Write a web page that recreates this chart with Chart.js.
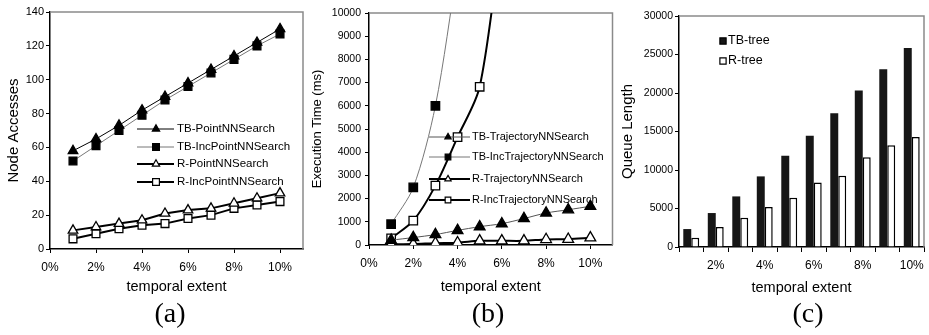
<!DOCTYPE html>
<html>
<head>
<meta charset="utf-8">
<script src="https://cdn.jsdelivr.net/npm/chart.js@4.4.0/dist/chart.umd.min.js"></script>
<style>
  body { margin: 0; background: #fff; }
  .panel { position: absolute; top: 0; height: 335px; }
  .caption { position: absolute; top: 297px; line-height: 30px; font: 28px 'Liberation Serif', serif; transform: translateX(-50%); }
</style>
</head>
<body>
<div class="panel" style="left:0;width:310px"><canvas id="chart-a"></canvas></div>
<div class="panel" style="left:310px;width:310px"><canvas id="chart-b"></canvas></div>
<div class="panel" style="left:620px;width:309px"><canvas id="chart-c"></canvas></div>
<div class="caption" style="left:170px">(a)</div>
<div class="caption" style="left:488px">(b)</div>
<div class="caption" style="left:808px">(c)</div>
<script>
// temporal extent in %
const extent = [1, 2, 3, 4, 5, 6, 7, 8, 9, 10]
const extentLabels = ['1%', '2%', '3%', '4%', '5%', '6%', '7%', '8%', '9%', '10%']

// (a) node accesses
const tbPointNN = [58, 65, 73, 82, 90, 98, 106, 114, 122, 130]
const tbIncPointNN = [52, 61, 70, 79, 88, 96, 104, 112, 120, 127]
const rPointNN = [11, 13, 15, 17, 21, 23, 24, 27, 30, 33]
const rIncPointNN = [6, 9, 12, 14, 15, 18, 20, 24, 26, 28]

// (b) execution time (ms), the steep series leave the plot
const tbTrajNN = [210, 320, 450, 630, 790, 920, 1140, 1380, 1520, 1670]
const tbIncTrajNN = [900, 2480, 6000, 12000]
const rTrajNN = [30, 40, 80, 100, 180, 180, 180, 240, 250, 310]
const rIncTrajNN = [290, 1050, 2560, 4650, 6820, 13500]

// (c) queue length
const tbTreeQueue = [2330, 4410, 6570, 9170, 11850, 14440, 17380, 20320, 23090, 25850]
const rTreeQueue = [1210, 2590, 3800, 5190, 6400, 8390, 9250, 11670, 13230, 14270]

Chart.defaults.font.family = "'Liberation Sans', Arial, sans-serif"
Chart.defaults.color = '#000'
Chart.defaults.animation = false

const pts = (ys) => ys.map((y, i) => ({ x: extent[i], y: y }))

const marker = (ctx, style, x, y, r) => {
  ctx.beginPath()
  if (style === 'triangle') {
    ctx.moveTo(x, y - r)
    ctx.lineTo(x + r * 0.866, y + r * 0.5)
    ctx.lineTo(x - r * 0.866, y + r * 0.5)
    ctx.closePath()
  } else {
    const s = r * Math.SQRT1_2
    ctx.rect(x - s, y - s, 2 * s, 2 * s)
  }
  ctx.fill()
  ctx.stroke()
}

// grey box on top and right of the plot
const frame = {
  id: 'frame',
  beforeDatasetsDraw (chart) {
    const { ctx, chartArea: a } = chart
    ctx.save()
    ctx.strokeStyle = '#8a8a8a'
    ctx.lineWidth = 1.5
    ctx.beginPath()
    ctx.moveTo(a.left, a.top)
    ctx.lineTo(a.right, a.top)
    ctx.lineTo(a.right, a.bottom)
    ctx.stroke()
    ctx.restore()
  }
}

// excel style key: line with marker, then the name
const keyBox = {
  id: 'keyBox',
  afterDatasetsDraw (chart, args, opts) {
    const { ctx } = chart
    ctx.save()
    ctx.font = opts.font
    ctx.textBaseline = 'middle'
    chart.data.datasets.forEach((ds, i) => {
      const y = opts.rows[i]
      if (opts.line) {
        ctx.strokeStyle = ds.borderColor
        ctx.lineWidth = ds.borderWidth
        ctx.beginPath()
        ctx.moveTo(opts.line[0], y)
        ctx.lineTo(opts.line[1], y)
        ctx.stroke()
      }
      ctx.fillStyle = ds.pointBackgroundColor || ds.backgroundColor
      ctx.strokeStyle = '#000'
      ctx.lineWidth = 1.2
      marker(ctx, ds.pointStyle || 'rect', opts.markerX, y, opts.radius[i])
      ctx.fillStyle = '#000'
      ctx.fillText(ds.label, opts.textX, y)
    })
    ctx.restore()
  }
}

const fixWidth = (w) => (s) => { s.width = w; s.paddingTop = 0; s.paddingBottom = 0 }
const fixHeight = (h) => (s) => { s.height = h; s.paddingLeft = 0; s.paddingRight = 0 }

const axisLine = { color: '#000', width: 1.5 }
const tickMarks = (len) => ({ drawOnChartArea: false, tickLength: len, color: '#000', lineWidth: 1 })

const xPercent = (h, tickLen) => ({
  type: 'linear',
  min: 0,
  max: 11,
  afterFit: fixHeight(h),
  border: axisLine,
  grid: tickMarks(tickLen),
  ticks: { stepSize: 2, includeBounds: false, padding: 7, font: { size: 12 }, callback: (v) => v + '%' },
  title: { display: true, text: 'temporal extent', font: { size: 14.5, lineHeight: 1 }, padding: { top: 0, bottom: 41 } }
})

const yAxis = (max, step, w, title, titleSize, titlePad, tickPad, tickFont) => ({
  min: 0,
  max: max,
  afterFit: fixWidth(w),
  border: axisLine,
  grid: tickMarks(4),
  ticks: { stepSize: step, padding: tickPad, font: { size: tickFont }, callback: (v) => String(v) },
  title: { display: true, text: title, font: { size: titleSize, lineHeight: 1 }, padding: { top: titlePad, bottom: 0 } }
})

const lineSet = (label, ys, style, filled, color, width, r, tension) => ({
  label: label,
  data: pts(ys),
  borderColor: color,
  borderWidth: width,
  pointStyle: style,
  pointRadius: r,
  pointHoverRadius: r,
  pointBackgroundColor: filled ? '#000' : '#fff',
  pointBorderColor: '#000',
  pointBorderWidth: 1.3,
  tension: tension
})

new Chart(document.getElementById('chart-a'), {
  type: 'line',
  data: {
    datasets: [
      lineSet('TB-PointNNSearch', tbPointNN, 'triangle', true, '#000', 1, 5.5, 0),
      lineSet('TB-IncPointNNSearch', tbIncPointNN, 'rect', true, '#777', 1, 5.5, 0),
      lineSet('R-PointNNSearch', rPointNN, 'triangle', false, '#000', 2, 5.5, 0),
      lineSet('R-IncPointNNSearch', rIncPointNN, 'rect', false, '#000', 2, 5.5, 0)
    ]
  },
  options: {
    responsive: true,
    maintainAspectRatio: false,
    layout: { padding: { top: 12, right: 7, left: 0, bottom: 0 } },
    scales: {
      x: xPercent(86, 4),
      y: yAxis(140, 20, 50, 'Node Accesses', 15, 6.5, 2, 11)
    },
    plugins: {
      legend: { display: false },
      tooltip: { enabled: false },
      keyBox: { font: "11.5px 'Liberation Sans', Arial", rows: [129, 147, 164, 182], line: [137, 174], markerX: 156, textX: 177, radius: [4.2, 4.8, 4.2, 4.8] }
    }
  },
  plugins: [frame, keyBox]
})

new Chart(document.getElementById('chart-b'), {
  type: 'line',
  data: {
    datasets: [
      lineSet('TB-TrajectoryNNSearch', tbTrajNN, 'triangle', true, '#555', 1, 6.2, 0.3),
      lineSet('TB-IncTrajectoryNNSearch', tbIncTrajNN, 'rect', true, '#777', 1, 6, 0.3),
      lineSet('R-TrajectoryNNSearch', rTrajNN, 'triangle', false, '#000', 2, 6.2, 0.3),
      lineSet('R-IncTrajectoryNNSearch', rIncTrajNN, 'rect', false, '#000', 2, 6, 0.3)
    ]
  },
  options: {
    responsive: true,
    maintainAspectRatio: false,
    layout: { padding: { top: 13, right: 5, left: 0, bottom: 0 } },
    scales: {
      x: xPercent(90, 4),
      y: yAxis(10000, 1000, 59, 'Execution Time (ms)', 13, 1, 4, 10.5)
    },
    plugins: {
      legend: { display: false },
      tooltip: { enabled: false },
      keyBox: { font: "11px 'Liberation Sans', Arial", rows: [137, 157, 179, 200], line: [119, 160], markerX: 138, textX: 162, radius: [3.6, 4, 3.6, 4] }
    }
  },
  plugins: [frame, keyBox]
})

new Chart(document.getElementById('chart-c'), {
  type: 'bar',
  data: {
    labels: extentLabels,
    datasets: [
      { label: 'TB-tree', data: tbTreeQueue, backgroundColor: '#161616', borderWidth: 0, categoryPercentage: 0.65, barPercentage: 1 },
      { label: 'R-tree', data: rTreeQueue, backgroundColor: '#fff', borderColor: '#000', borderWidth: 1.5, categoryPercentage: 0.65, barPercentage: 1 }
    ]
  },
  options: {
    responsive: true,
    maintainAspectRatio: false,
    layout: { padding: { top: 16, right: 5, left: 0, bottom: 0 } },
    scales: {
      x: {
        afterFit: fixHeight(88),
        border: axisLine,
        grid: tickMarks(5),
        ticks: { padding: 6, autoSkip: false, maxRotation: 0, font: { size: 12 }, callback: (v, i) => (i % 2 === 1 ? extentLabels[i] : '') },
        title: { display: true, text: 'temporal extent', font: { size: 14.5, lineHeight: 1 }, padding: { top: 0, bottom: 40 } }
      },
      y: yAxis(30000, 5000, 59, 'Queue Length', 15, 0, 2, 10.5)
    },
    plugins: {
      legend: { display: false },
      tooltip: { enabled: false },
      keyBox: { font: "12.5px 'Liberation Sans', Arial", rows: [41, 61], markerX: 103, textX: 108, radius: [4.4, 4.4] }
    }
  },
  plugins: [frame, keyBox]
})
</script>
</body>
</html>
